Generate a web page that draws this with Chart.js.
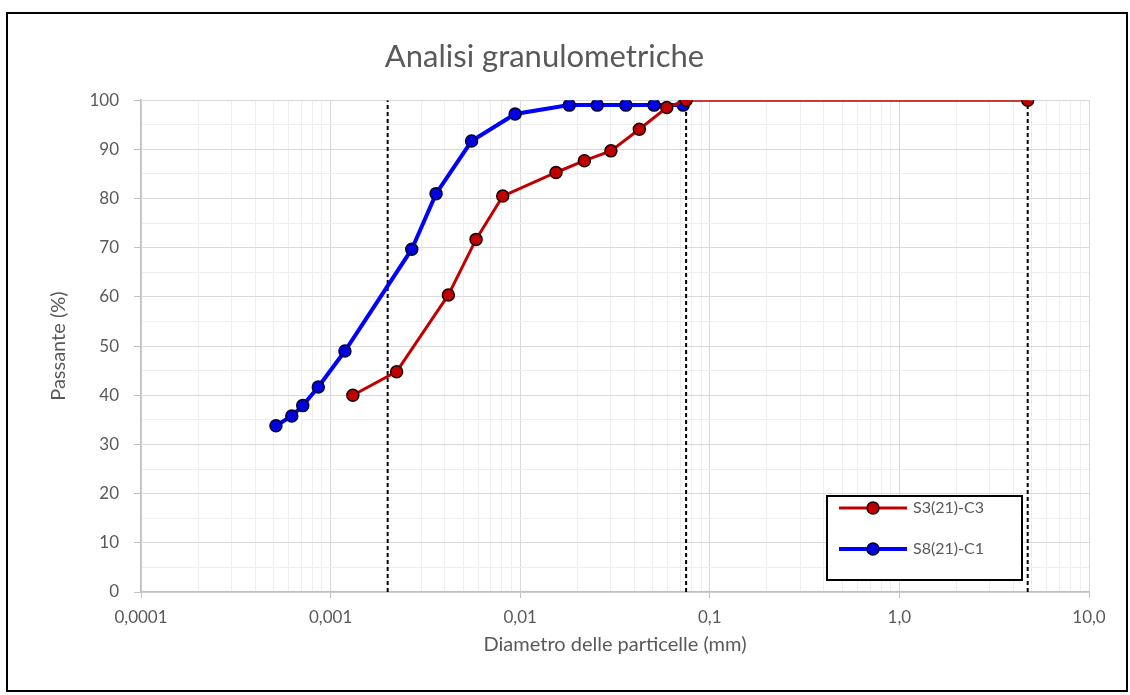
<!DOCTYPE html>
<html>
<head>
<meta charset="utf-8">
<title>Analisi granulometriche</title>
<script src="https://cdn.jsdelivr.net/npm/chart.js@4.4.0/dist/chart.umd.min.js"></script>
<style>
  html, body { margin: 0; padding: 0; background: #fff; }
  #wrap { position: relative; width: 1130px; height: 695px; }
  #frame { position: absolute; left: 6px; top: 12px; width: 1122px; height: 680px;
           border: 2px solid #000; box-sizing: border-box; pointer-events: none; }
</style>
</head>
<body>
<div id="wrap">
  <canvas id="granChart" width="1130" height="695"></canvas>
  <div id="frame"></div>
</div>
<script>
// grain size (mm) and percent passing for each sample
var diamS3 = [0.00131, 0.00223, 0.00418, 0.00585, 0.00809, 0.01545, 0.0218, 0.0301, 0.0425, 0.0593, 0.075, 4.75];
var passS3 = [40.0, 44.8, 60.4, 71.7, 80.5, 85.3, 87.7, 89.7, 94.1, 98.5, 100, 100];
var diamS8 = [0.000515, 0.000624, 0.000713, 0.000861, 0.00119, 0.00268, 0.0036, 0.00554, 0.0094, 0.01815, 0.0255, 0.0361, 0.0508, 0.0724];
var passS8 = [33.8, 35.8, 37.9, 41.7, 49.0, 69.7, 81.0, 91.7, 97.2, 99.0, 99.0, 99.0, 99.0, 99.0];
var seriesNames = ['S3(21)-C3', 'S8(21)-C1'];

// clay / silt / sand / gravel limits (mm)
var limits = [0.002, 0.075, 4.75];

var xTickLabels = ['0,0001', '0,001', '0,01', '0,1', '1,0', '10,0'];
var yRange = [0, 100];

var textColor = '#595959';
var fontFamily = 'Lato, "Open Sans", sans-serif';

function toPoints(xs, ys) {
    return xs.map(function (x, i) { return { x: x, y: ys[i] }; });
}

function isDecade(v) {
    var l = Math.log10(v);
    return Math.abs(l - Math.round(l)) < 1e-9;
}

var datasets = [
    {
        label: seriesNames[0],
        data: toPoints(diamS3, passS3),
        showLine: true,
        borderColor: '#c00000',
        borderWidth: 3,
        pointBackgroundColor: '#c00000',
        pointBorderColor: '#1a0000',
        pointBorderWidth: 1.5,
        pointRadius: 6,
        order: 0
    },
    {
        label: seriesNames[1],
        data: toPoints(diamS8, passS8),
        showLine: true,
        borderColor: '#0000ff',
        borderWidth: 4,
        pointBackgroundColor: '#0000e0',
        pointBorderColor: '#000030',
        pointBorderWidth: 1.5,
        pointRadius: 6,
        order: 1
    }
];

limits.forEach(function (d) {
    datasets.push({
        label: 'limit',
        data: [{ x: d, y: yRange[0] }, { x: d, y: yRange[1] }],
        showLine: true,
        borderColor: '#000',
        borderWidth: 2,
        borderDash: [4, 3],
        pointRadius: 0,
        order: 2
    });
});

// boxed legend sitting in the lower right of the plot
var boxLegend = {
    id: 'boxLegend',
    afterDraw: function (chart) {
        var c = chart.ctx;
        var x0 = 827, y0 = 496, w = 195, h = 84;
        c.save();
        c.fillStyle = '#fff';
        c.fillRect(x0, y0, w, h);
        c.strokeStyle = '#000';
        c.lineWidth = 2;
        c.strokeRect(x0, y0, w, h);
        [0, 1].forEach(function (i) {
            var ds = chart.data.datasets[i];
            var y = y0 + 12 + i * 41;
            c.strokeStyle = ds.borderColor;
            c.lineWidth = ds.borderWidth;
            c.beginPath();
            c.moveTo(x0 + 12, y);
            c.lineTo(x0 + 80, y);
            c.stroke();
            c.beginPath();
            c.arc(x0 + 46, y, ds.pointRadius, 0, Math.PI * 2);
            c.fillStyle = ds.pointBackgroundColor;
            c.fill();
            c.lineWidth = ds.pointBorderWidth;
            c.strokeStyle = ds.pointBorderColor;
            c.stroke();
            c.fillStyle = textColor;
            c.font = '16px ' + fontFamily;
            c.textBaseline = 'middle';
            c.fillText(ds.label, x0 + 86, y);
        });
        c.restore();
    }
};

var ctx = document.getElementById('granChart').getContext('2d');
var chart = new Chart(ctx, {
    type: 'scatter',
    data: { datasets: datasets },
    options: {
        responsive: false,
        animation: false,
        layout: { padding: { left: 0, right: 41, top: 0, bottom: 23 } },
        plugins: {
            legend: { display: false },
            tooltip: { enabled: false },
            title: {
                display: true,
                text: 'Analisi granulometriche',
                color: textColor,
                font: { family: fontFamily, size: 31, weight: 'normal' },
                padding: { top: 38, bottom: 25 }
            }
        },
        scales: {
            x: {
                type: 'logarithmic',
                min: 0.0001,
                max: 10,
                afterBuildTicks: function (scale) {
                    var t = [];
                    for (var k = -4; k <= 0; k++) {
                        for (var m = 1; m <= 9; m++) {
                            t.push({ value: m * Math.pow(10, k) });
                        }
                    }
                    t.push({ value: 10 });
                    scale.ticks = t;
                },
                afterFit: function (scale) { scale.height = 80; },
                ticks: {
                    autoSkip: false,
                    maxRotation: 0,
                    padding: 9,
                    color: textColor,
                    font: { family: fontFamily, size: 17 },
                    callback: function (v) {
                        if (!isDecade(v)) return '';
                        return xTickLabels[Math.round(Math.log10(v)) + 4];
                    }
                },
                grid: {
                    color: function (c) { return c.tick && isDecade(c.tick.value) ? '#d9d9d9' : '#eeeeee'; },
                    tickColor: function (c) { return c.tick && isDecade(c.tick.value) ? '#bfbfbf' : 'rgba(0,0,0,0)'; },
                    tickLength: 6
                },
                border: { color: '#bfbfbf', width: 1.5 },
                title: {
                    display: true,
                    text: 'Diametro delle particelle (mm)',
                    color: textColor,
                    font: { family: fontFamily, size: 20 },
                    padding: { top: 0, bottom: 15 }
                }
            },
            y: {
                min: yRange[0],
                max: yRange[1],
                afterFit: function (scale) { scale.width = 141; },
                ticks: {
                    stepSize: 5,
                    padding: 15,
                    color: textColor,
                    font: { family: fontFamily, size: 17 },
                    callback: function (v) { return v % 10 === 0 ? v : ''; }
                },
                grid: {
                    color: function (c) { return c.tick && c.tick.value % 10 === 0 ? '#d9d9d9' : '#eeeeee'; },
                    tickColor: function (c) { return c.tick && c.tick.value % 10 === 0 ? '#bfbfbf' : 'rgba(0,0,0,0)'; },
                    tickLength: 7
                },
                border: { color: '#bfbfbf', width: 1.5 },
                title: {
                    display: true,
                    text: 'Passante (%)',
                    color: textColor,
                    font: { family: fontFamily, size: 20 },
                    padding: { top: 47, bottom: 0 }
                }
            }
        }
    },
    plugins: [boxLegend]
});
</script>
</body>
</html>
